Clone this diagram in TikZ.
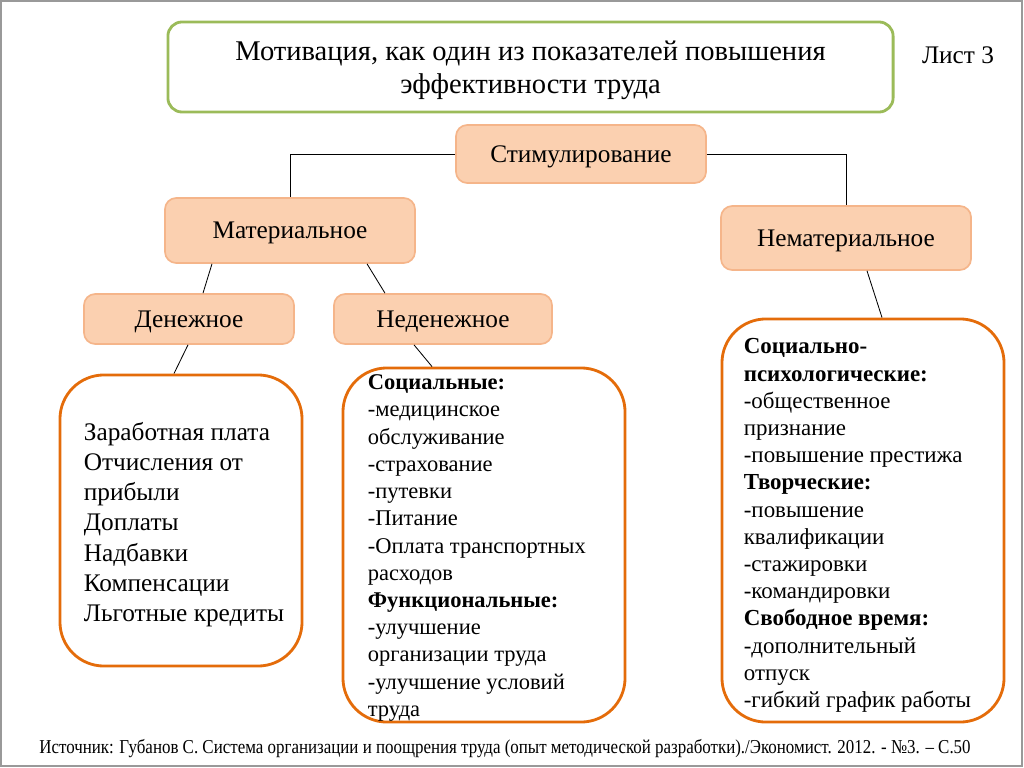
\documentclass[tikz,border=0pt]{standalone}
\usepackage{fontspec}
\setmainfont{Liberation Serif}
\usetikzlibrary{positioning}

\definecolor{peach}{HTML}{FBD0B0}
\definecolor{peachline}{HTML}{F5B58A}
\definecolor{boxorange}{HTML}{E46C0A}
\definecolor{titlegreen}{HTML}{9BBB59}

\tikzset{
  catbox/.style={draw=peachline, fill=peach, line width=1.2pt, rounded corners=8pt,
    minimum width=6.25cm, font=\fontsize{18}{21}\selectfont, text depth=0pt},
  listbox/.style={draw=boxorange, line width=2pt, rounded corners=1.1cm},
  listtext/.style={anchor=west, align=left, inner sep=0pt},
  link/.style={black, line width=0.6pt}
}

\begin{document}
\begin{tikzpicture}[x=0.025cm, y=-0.025cm]
\useasboundingbox (0,0) rectangle (1024,768);
\draw[gray!80, line width=1pt] (1,1) rectangle (1022,766);

\node[draw=titlegreen, line width=2pt, rounded corners=10pt, minimum width=18.125cm,
  minimum height=2.25cm, align=center, text depth=0pt, font=\fontsize{20.3}{23.4}\selectfont]
  (title) at (530.5,67) {Мотивация, как один из показателей повышения\\эффективности труда};
\node[font=\fontsize{18}{21}\selectfont] (sheet) at (958,55) {Лист 3};

\node[catbox, minimum height=1.45cm] (stim) at (581,154) {Стимулирование};
\node[catbox, minimum height=1.625cm] (mat) at (290,230.5) {Материальное};
\node[catbox, minimum height=1.6cm] (nemat) at (846,238) {Нематериальное};
\node[catbox, minimum width=5.25cm, minimum height=1.25cm] (den) at (189,319) {Денежное};
\node[catbox, minimum width=5.45cm, minimum height=1.25cm] (neden) at (443,319) {Неденежное};

% white boxes with the lists
\node[listbox, minimum width=6.05cm, minimum height=7.275cm] (cash) at (181,520.5) {};
\node[listbox, minimum width=7.05cm, minimum height=8.85cm] (noncash) at (484,545) {};
\node[listbox, minimum width=7.05cm, minimum height=10.075cm] (nonmat) at (863,520.5) {};

\node[listtext, font=\fontsize{18}{21.5}\selectfont] (cashtxt) at ([xshift=0.625cm,yshift=-0.1cm]cash.west)
  {Заработная плата\\Отчисления от\\прибыли\\Доплаты\\Надбавки\\Компенсации\\Льготные кредиты};
\node[listtext, font=\fontsize{16}{19.35}\selectfont] (noncashtxt) at ([xshift=0.65cm,yshift=-0.075cm]noncash.west)
  {\textbf{Социальные:}\\-медицинское\\обслуживание\\-страхование\\-путевки\\-Питание\\-Оплата транспортных\\расходов\\
   \textbf{Функциональные:}\\-улучшение\\организации труда\\-улучшение условий\\труда};
\node[listtext, font=\fontsize{16.3}{19.35}\selectfont] (nonmattxt) at ([xshift=0.575cm,yshift=-0.125cm]nonmat.west)
  {\textbf{Социально-}\\\textbf{психологические:}\\-общественное\\признание\\-повышение престижа\\
   \textbf{Творческие:}\\-повышение\\квалификации\\-стажировки\\-командировки\\
   \textbf{Свободное время:}\\-дополнительный\\отпуск\\-гибкий график работы};

\draw[link] (stim.west) -| (mat.north);
\draw[link] (stim.east) -| (nemat.north);
\draw[link] ([xshift=-1.95cm]mat.south) -- ([xshift=0.35cm]den.north);
\draw[link] ([xshift=1.925cm]mat.south) -- ([xshift=-1.45cm]neden.north);
\draw[link] ([xshift=-0.025cm]den.south) -- ([xshift=-0.175cm]cash.north);
\draw[link] ([xshift=-0.725cm]neden.south) -- ([xshift=-1.3cm]noncash.north);
\draw[link] ([xshift=0.525cm]nemat.south) -- ([xshift=0.475cm]nonmat.north);

\node[font=\fontsize{14}{16}\selectfont] (source) at (505,749)
  {\scalebox{0.86}[1]{Источник: Губанов С. Система организации и поощрения труда (опыт методической разработки)./Экономист. 2012. - №3. – С.50}};
\end{tikzpicture}
\end{document}
